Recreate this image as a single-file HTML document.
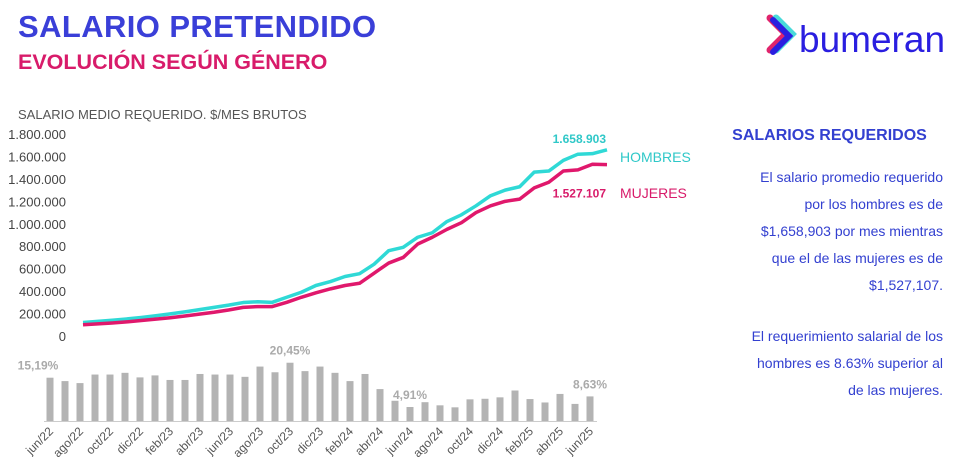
<!DOCTYPE html>
<html><head><meta charset="utf-8"><style>
body{margin:0;width:967px;height:473px;background:#fff;font-family:"Liberation Sans",sans-serif;overflow:hidden;position:relative}
.abs{position:absolute}
#t1{left:18px;top:9px;font-size:31px;font-weight:bold;color:#3a3fd8;letter-spacing:0.4px}
#t2{left:18px;top:50px;font-size:21.5px;font-weight:bold;color:#d81b6a}
#panel{left:716px;top:122px;width:227px;color:#3340d0;font-size:14px;line-height:27px;text-align:right}
#panel h3{margin:0 0 15px 0;font-size:16px;text-align:center;color:#3340d0}
</style></head><body>
<div id="t1" class="abs">SALARIO PRETENDIDO</div>
<div id="t2" class="abs">EVOLUCIÓN SEGÚN GÉNERO</div>
<div class="abs" style="left:764px;top:12px;width:200px;height:50px">
<svg width="200" height="50"><path d="M6 6 L22 22 L6 38" stroke="#e0246c" stroke-width="7" fill="none" stroke-linecap="round"/><path d="M12 6 L28 22 L12 38" stroke="#35d6d6" stroke-width="7" fill="none" stroke-linecap="round" opacity="0.9"/><path d="M9 8 L25 24 L9 40" stroke="#2a1ee0" stroke-width="6" fill="none" stroke-linecap="round"/>
<text x="35" y="40" font-size="37" fill="#2a1ee0" font-family="Liberation Sans, sans-serif">bumeran</text></svg></div>
<div id="panel" class="abs">
<h3>SALARIOS REQUERIDOS</h3>
<div>El salario promedio requerido<br>por los hombres es de<br>$1,658,903 por mes mientras<br>que el de las mujeres es de<br>$1,527,107.</div>
<div style="height:24px"></div>
<div>El requerimiento salarial de los<br>hombres es 8.63% superior al<br>de las mujeres.</div>
</div>
<svg id="chart" class="abs" style="left:0;top:0" width="720" height="473"></svg>
<script>
const months=["jun./22","jul./22","ago./22","sep./22","oct./22","nov./22","dic./22","ene./23","feb./23","mar./23","abr./23","may./23","jun./23","jul./23","ago./23","sep./23","oct./23","nov./23","dic./23","ene./24","feb./24","mar./24","abr./24","may./24","jun./24","jul./24","ago./24","sep./24","oct./24","nov./24","dic./24","ene./25","feb./25","mar./25","abr./25","may./25","jun./25"];
const hombres=[120,130,140,152,165,180,197,215,235,255,275,298,305,300,345,390,450,485,530,555,640,760,790,880,920,1020,1080,1160,1250,1300,1330,1460,1470,1565,1620,1625,1658.903];
const mujeres=[100,108,116,126,138,150,163,178,195,212,232,255,262,262,300,345,385,420,450,470,560,650,700,820,880,950,1010,1100,1160,1200,1220,1320,1370,1470,1480,1530,1527.107];
const gap=[15.19,14.0,13.3,16.3,16.3,16.9,15.3,16.0,14.4,14.4,16.5,16.3,16.3,15.5,19.1,17.1,20.45,17.5,19.1,16.9,14.0,16.5,11.2,7.1,4.91,6.6,5.5,4.8,7.6,7.8,8.3,10.7,7.7,6.5,9.5,6.0,8.63];
const yTicks=[0,200000,400000,600000,800000,1000000,1200000,1400000,1600000,1800000];
const gapLabels={0:"15,19%",16:"20,45%",24:"4,91%",36:"8,63%"};
const svg=document.getElementById('chart');const NS="http://www.w3.org/2000/svg";
function mk(t,a,txt){const e=document.createElementNS(NS,t);for(const k in a)e.setAttribute(k,a[k]);if(txt!=null)e.textContent=txt;svg.appendChild(e);return e;}
const xL=i=>83+i*(524/(months.length-1));
const yL=v=>336-v*(202/1800);
const xB=i=>50+i*(540/(months.length-1));
const yB=v=>421-v*2.85;
let e=mk('text',{x:18,y:119,'font-size':13,fill:'#555'},'SALARIO MEDIO REQUERIDO. $/MES BRUTOS');


yTicks.forEach(v=>{const t=mk('text',{x:66,y:yL(v/1000)+5,'font-size':13,fill:'#444','text-anchor':'end'},v===0?'0':v.toLocaleString('de-DE'));

});
function line(arr,col,name){const p=mk('polyline',{points:arr.map((v,i)=>xL(i)+','+yL(v)).join(' '),fill:'none',stroke:col,'stroke-width':3.5,'stroke-linejoin':'round'});

}
line(hombres,'#2fd9d6','hombres-line');line(mujeres,'#e0186c','mujeres-line');
const nH=hombres.length-1;
e=mk('text',{x:xL(nH)-1,y:yL(hombres[nH])-7,'font-size':12,'font-weight':'bold',fill:'#2fc8c8','text-anchor':'end'},'1.658.903');


e=mk('text',{x:xL(nH)-1,y:yL(mujeres[nH])+33,'font-size':12,'font-weight':'bold',fill:'#d81b6a','text-anchor':'end'},'1.527.107');


e=mk('text',{x:620,y:162,'font-size':14,fill:'#2fc8c8'},'HOMBRES');


e=mk('text',{x:620,y:198,'font-size':14,fill:'#d81b6a'},'MUJERES');


gap.forEach((v,i)=>{const r=mk('rect',{x:xB(i)-3.5,y:yB(v),width:7,height:421-yB(v),fill:'#b3b3b3'});


if(gapLabels[i]){const t=mk('text',{x:xB(i)-(i===0?12:0),y:yB(v)-8,'font-size':12,'font-weight':'bold',fill:'#aaa','text-anchor':'middle'},gapLabels[i]);

}
if(i%2===0){const t=mk('text',{x:xB(i)+4,y:432,'font-size':12,fill:'#555','text-anchor':'end',transform:`rotate(-45 ${xB(i)+4} 432)`},months[i].replace('./','/'));

}});
e=mk('line',{x1:44,x2:597,y1:421.5,y2:421.5,stroke:'#ccc'});


</script>
</body></html>
